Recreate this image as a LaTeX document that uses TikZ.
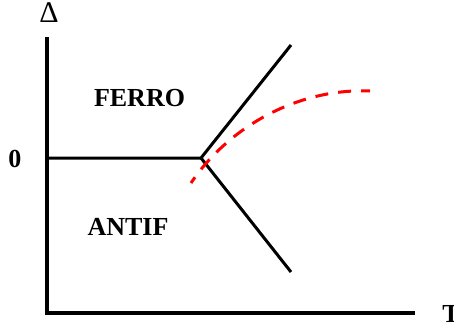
\documentclass[tikz,border=0pt]{standalone}
\usepackage{fontspec}
\setmainfont{Liberation Serif}
\begin{document}
\begin{tikzpicture}[x=1pt,y=-1pt,
  axis/.style={line width=3.2pt},
  phase/.style={line width=3pt},
  lbl/.style={font=\fontsize{26}{28}\selectfont\bfseries, inner sep=0pt},
  redcurve/.style={red, line width=3pt, dash pattern=on 13pt off 10pt, dash phase=6pt}]
\useasboundingbox (0,0) rectangle (454,330);
\coordinate (ytop) at (47,37);
\coordinate (orig) at (47,313);
\coordinate (xend) at (415,313);
\coordinate (zero) at (47,158);
\coordinate (tp) at (201,158);
\coordinate (up) at (291,45);
\coordinate (dn) at (291,272);
\coordinate (rs) at (191,183);
\coordinate (re) at (370,91);
\draw[axis] (ytop) -- (orig) -- (xend);
\draw[phase] (zero) -- (tp) -- (up);
\draw[phase] (tp) -- (dn);
\draw[redcurve] (rs) .. controls (230,125) and (300,88) .. (re);
\node[lbl, anchor=base] (ferro) at (139.5,106.5) {FERRO};
\node[lbl, anchor=base] (antif) at (128,235) {ANTIF};
\node[lbl, anchor=base] (zlab) at (15,167) {0};
\node[lbl, anchor=base] (tlab) at (451,322) {T};
\node[font=\fontsize{30}{32}\selectfont, inner sep=0pt, anchor=base] (dlab) at (49,22) {Δ};
\end{tikzpicture}
\end{document}
